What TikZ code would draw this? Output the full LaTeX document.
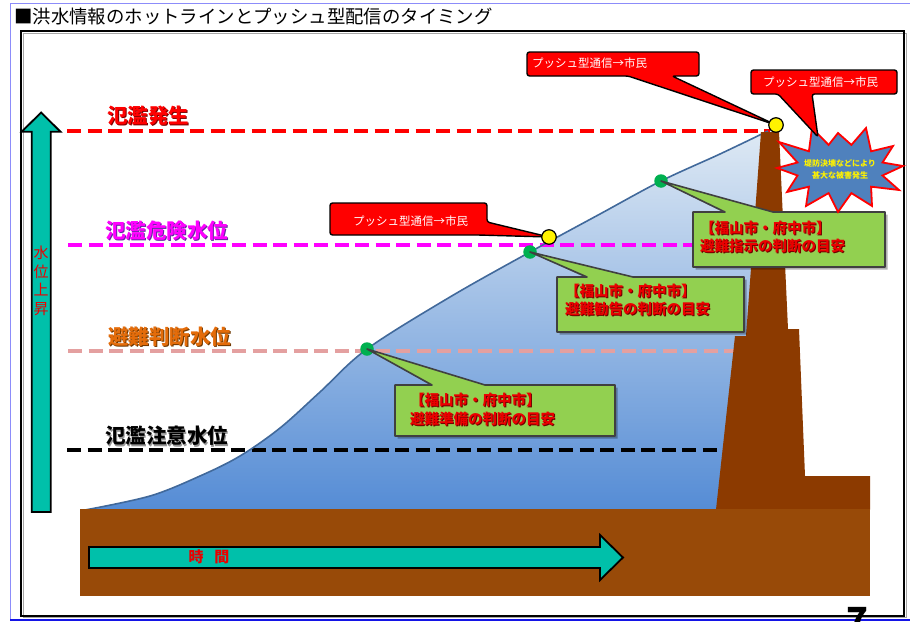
\documentclass[tikz,border=0pt]{standalone}
\usepackage{fontspec}
\newfontfamily\jp{Noto Sans CJK JP}
\usetikzlibrary{calc}

\definecolor{framepurple}{RGB}{140,140,250}
\definecolor{framepageblue}{RGB}{20,20,230}
\definecolor{arrowteal}{RGB}{0,192,170}
\definecolor{groundbrown}{RGB}{152,74,8}
\definecolor{leveebrown}{RGB}{140,58,0}
\definecolor{waterline}{RGB}{65,105,155}
\definecolor{watertop}{RGB}{222,233,244}
\definecolor{watermid}{RGB}{170,198,234}
\definecolor{waterbot}{RGB}{85,140,213}
\definecolor{lvlred}{RGB}{255,0,0}
\definecolor{lvlredsh}{RGB}{120,0,0}
\definecolor{lvlmag}{RGB}{255,0,255}
\definecolor{lvlmagsh}{RGB}{100,40,160}
\definecolor{lvlorange}{RGB}{228,108,10}
\definecolor{lvlorangesh}{RGB}{110,55,0}
\definecolor{lvlpink}{RGB}{228,160,160}
\definecolor{lvlblacksh}{RGB}{150,150,150}
\definecolor{calloutgreen}{RGB}{146,208,80}
\definecolor{calloutedge}{RGB}{64,64,64}
\definecolor{dotgreen}{RGB}{0,176,80}
\definecolor{burstblue}{RGB}{79,129,189}
\definecolor{noticered}{RGB}{235,0,0}
\definecolor{noticeredsh}{RGB}{110,0,0}

\tikzset{
  lvlline/.style={line width=4, dash pattern=on 14 off 6.5},
  lvltext/.style={anchor=west, inner sep=0, font=\jp\bfseries\fontsize{20.5}{22}\selectfont},
  pushbox/.style={fill=red, draw=black, line width=1.4, rounded corners=2.5, line join=round},
  pushtext/.style={anchor=west, inner sep=0, text=white, font=\jp\fontsize{11.5}{12}\selectfont},
  notebox/.style={fill=calloutgreen, draw=calloutedge, line width=1.6, line join=round},
  noteshadow/.style={fill=black, opacity=0.3},
  notetext/.style={anchor=west, inner sep=0, align=left, font=\jp\bfseries\fontsize{14.5}{18.5}\selectfont},
  greendot/.style={circle, fill=dotgreen, minimum size=13.5, inner sep=0},
  yellowdot/.style={circle, fill=yellow, draw=black, line width=1.2, minimum size=14.5, inner sep=0},
  bigarrow/.style={fill=arrowteal, draw=black, line width=1.8, line join=miter},
}

\begin{document}
\begin{tikzpicture}[x=1pt, y=-1pt, font=\jp]
\useasboundingbox (0,0) rectangle (910,621);

% page frames
\draw[framepurple, line width=1] (10,3) rectangle (916,619);
\draw[framepageblue, line width=1.5] (10,619.8) -- (912,619.8);
\draw[black!35, line width=1] (23,33) rectangle (906,617.5);
\draw[black, line width=2] (21,31) rectangle (904,616);

% title
\node[anchor=west, inner sep=0, font=\jp\fontsize{18.4}{20}\selectfont] (title) at (14,17)
  {■洪水情報のホットラインとプッシュ型配信のタイミング};

% river water
\fill[top color=watertop, middle color=watermid, bottom color=waterbot]
  plot[smooth, tension=0.55] coordinates {(85,510) (150,496) (200,476) (240,456) (280,428)
    (320,392) (367,349) (450,297) (530,252) (600,214) (661,181) (720,154) (768,131)}
  -- (772,131) -- (772,510) -- cycle;

% water levels
\draw[lvlline, lvlred] (67,131) -- (770,131);
\draw[lvlline, lvlmag] (68,245) -- (760,245);
\draw[lvlline, lvlpink] (68,351) -- (745,351);
\draw[lvlline, black] (67,450) -- (730,450);

% water surface
\draw[waterline, line width=1.6]
  plot[smooth, tension=0.55] coordinates {(85,510) (150,496) (200,476) (240,456) (280,428)
    (320,392) (367,349) (450,297) (530,252) (600,214) (661,181) (720,154) (768,131)};

% levee and ground
\fill[leveebrown] (761,132) -- (779,132) -- (788,329) -- (799,329) -- (805,476) -- (870,476)
  -- (870,509.5) -- (716,509.5) -- (735,336) -- (746,336) -- cycle;
\fill[groundbrown] (80,509) rectangle (870,596);

% time arrow
\filldraw[bigarrow] (89,547) -- (600,547) -- (600,535) -- (623,557.5) -- (600,580)
  -- (600,568) -- (89,568) -- cycle;
\node[inner sep=0, text=noticered, font=\jp\bfseries\fontsize{15}{16}\selectfont] (time) at (209,557)
  {時\hspace{11pt}間};

% rising water arrow
\filldraw[bigarrow] (31.7,512) -- (31.7,131.7) -- (21.7,131.7) -- (41.1,112.5) -- (60.5,131.7)
  -- (50.7,131.7) -- (50.7,512) -- cycle;
\node[inner sep=0, align=center, text=noticered, font=\jp\fontsize{15}{18.5}\selectfont] (rise) at (41.2,281)
  {水\\位\\上\\昇};

% level labels
\node[lvltext, text=lvlredsh] (l1s) at (108.2,117.2) {氾濫発生};
\node[lvltext, text=lvlred] (l1) at (107,116) {氾濫発生};
\node[lvltext, text=lvlmagsh] (l2s) at (106.2,232.2) {氾濫危険水位};
\node[lvltext, text=lvlmag] (l2) at (105,231) {氾濫危険水位};
\node[lvltext, text=lvlorangesh] (l3s) at (109.2,338.2) {避難判断水位};
\node[lvltext, text=lvlorange] (l3) at (108,337) {避難判断水位};
\node[lvltext, text=lvlblacksh] (l4s) at (106.2,437.2) {氾濫注意水位};
\node[lvltext, text=black] (l4) at (105,436) {氾濫注意水位};

% points on the water surface
\node[greendot] (g3) at (367,349) {};
\node[greendot] (g2) at (530,252) {};
\node[greendot] (g1) at (661,181) {};
\coordinate (y1) at (549,237);
\coordinate (y2) at (776,125);
\coordinate (burstc) at (840,169);

% notes for the municipalities
\begin{scope}[shift={(2.5,2.5)}]
  \fill[noteshadow] (693,212) -- (725,212) -- (g1.center) -- (773,212) -- (885,212) -- (885,267) -- (693,267) -- cycle;
  \fill[noteshadow] (557,277) -- (587,277) -- (g2.center) -- (633,277) -- (744,277) -- (744,332) -- (557,332) -- cycle;
  \fill[noteshadow] (395,385) -- (432,385) -- (g3.center) -- (485,385) -- (615,385) -- (615,436) -- (395,436) -- cycle;
\end{scope}
\filldraw[notebox] (693,212) -- (725,212) -- (g1.center) -- (773,212) -- (885,212) -- (885,267) -- (693,267) -- cycle;
\filldraw[notebox] (557,277) -- (587,277) -- (g2.center) -- (633,277) -- (744,277) -- (744,332) -- (557,332) -- cycle;
\filldraw[notebox] (395,385) -- (432,385) -- (g3.center) -- (485,385) -- (615,385) -- (615,436) -- (395,436) -- cycle;

\node[notetext, text=noticeredsh] (n1s) at (701,238) {【福山市・府中市】\\避難指示の判断の目安};
\node[notetext, text=noticered] (n1) at (700,237) {【福山市・府中市】\\避難指示の判断の目安};
\node[notetext, text=noticeredsh] (n2s) at (566,301) {【福山市・府中市】\\避難勧告の判断の目安};
\node[notetext, text=noticered] (n2) at (565,300) {【福山市・府中市】\\避難勧告の判断の目安};
\node[notetext, text=noticeredsh] (n3s) at (411,410.5) {【福山市・府中市】\\避難準備の判断の目安};
\node[notetext, text=noticered] (n3) at (410,409.5) {【福山市・府中市】\\避難準備の判断の目安};

% damage burst
\filldraw[fill=burstblue, draw=red, line width=1.8, line join=miter]
  (903,166) -- (882.5,162.5) -- (893,146) -- (871.1,151.3) -- (866,128) -- (851.4,144.9)
  -- (838,133) -- (828.6,144.9) -- (812,128) -- (808.9,151.3) -- (779,142) -- (797.5,162.5)
  -- (777,168) -- (797.5,175.5) -- (787,192) -- (808.9,186.7) -- (806,206) -- (828.6,193.1)
  -- (838,212) -- (851.4,193.1) -- (872,206) -- (871.1,186.7) -- (899,190) -- (882.5,175.5) -- cycle;
\node[inner sep=0, align=center, text=yellow, font=\jp\bfseries\fontsize{8}{12}\selectfont] (burst) at (burstc)
  {堤防決壊などにより\\甚大な被害発生};

% push notices
\draw[pushbox] (527,52) -- (699,52) -- (699,76) -- (672,76) -- (y2) -- (628,76) -- (527,76) -- cycle;
\node[pushtext] (p1) at (532,63) {プッシュ型通信→市民};
\draw[pushbox] (751,70) -- (897,70) -- (897,94) -- (812,94) -- (818,137) -- (778,94) -- (751,94) -- cycle;
\node[pushtext] (p2) at (763,82.5) {プッシュ型通信→市民};
\draw[pushbox] (330,203) -- (487,203) -- (487,222) -- (y1) -- (478,235) -- (330,235) -- cycle;
\node[pushtext] (p3) at (353,221) {プッシュ型通信→市民};

\node[yellowdot] (yd1) at (y1) {};
\node[yellowdot] (yd2) at (y2) {};

% page number, running off the foot of the page
\node[anchor=north, inner sep=0, font=\jp\bfseries\fontsize{36}{36}\selectfont] (pg) at (857,607) {7};
\end{tikzpicture}
\end{document}
